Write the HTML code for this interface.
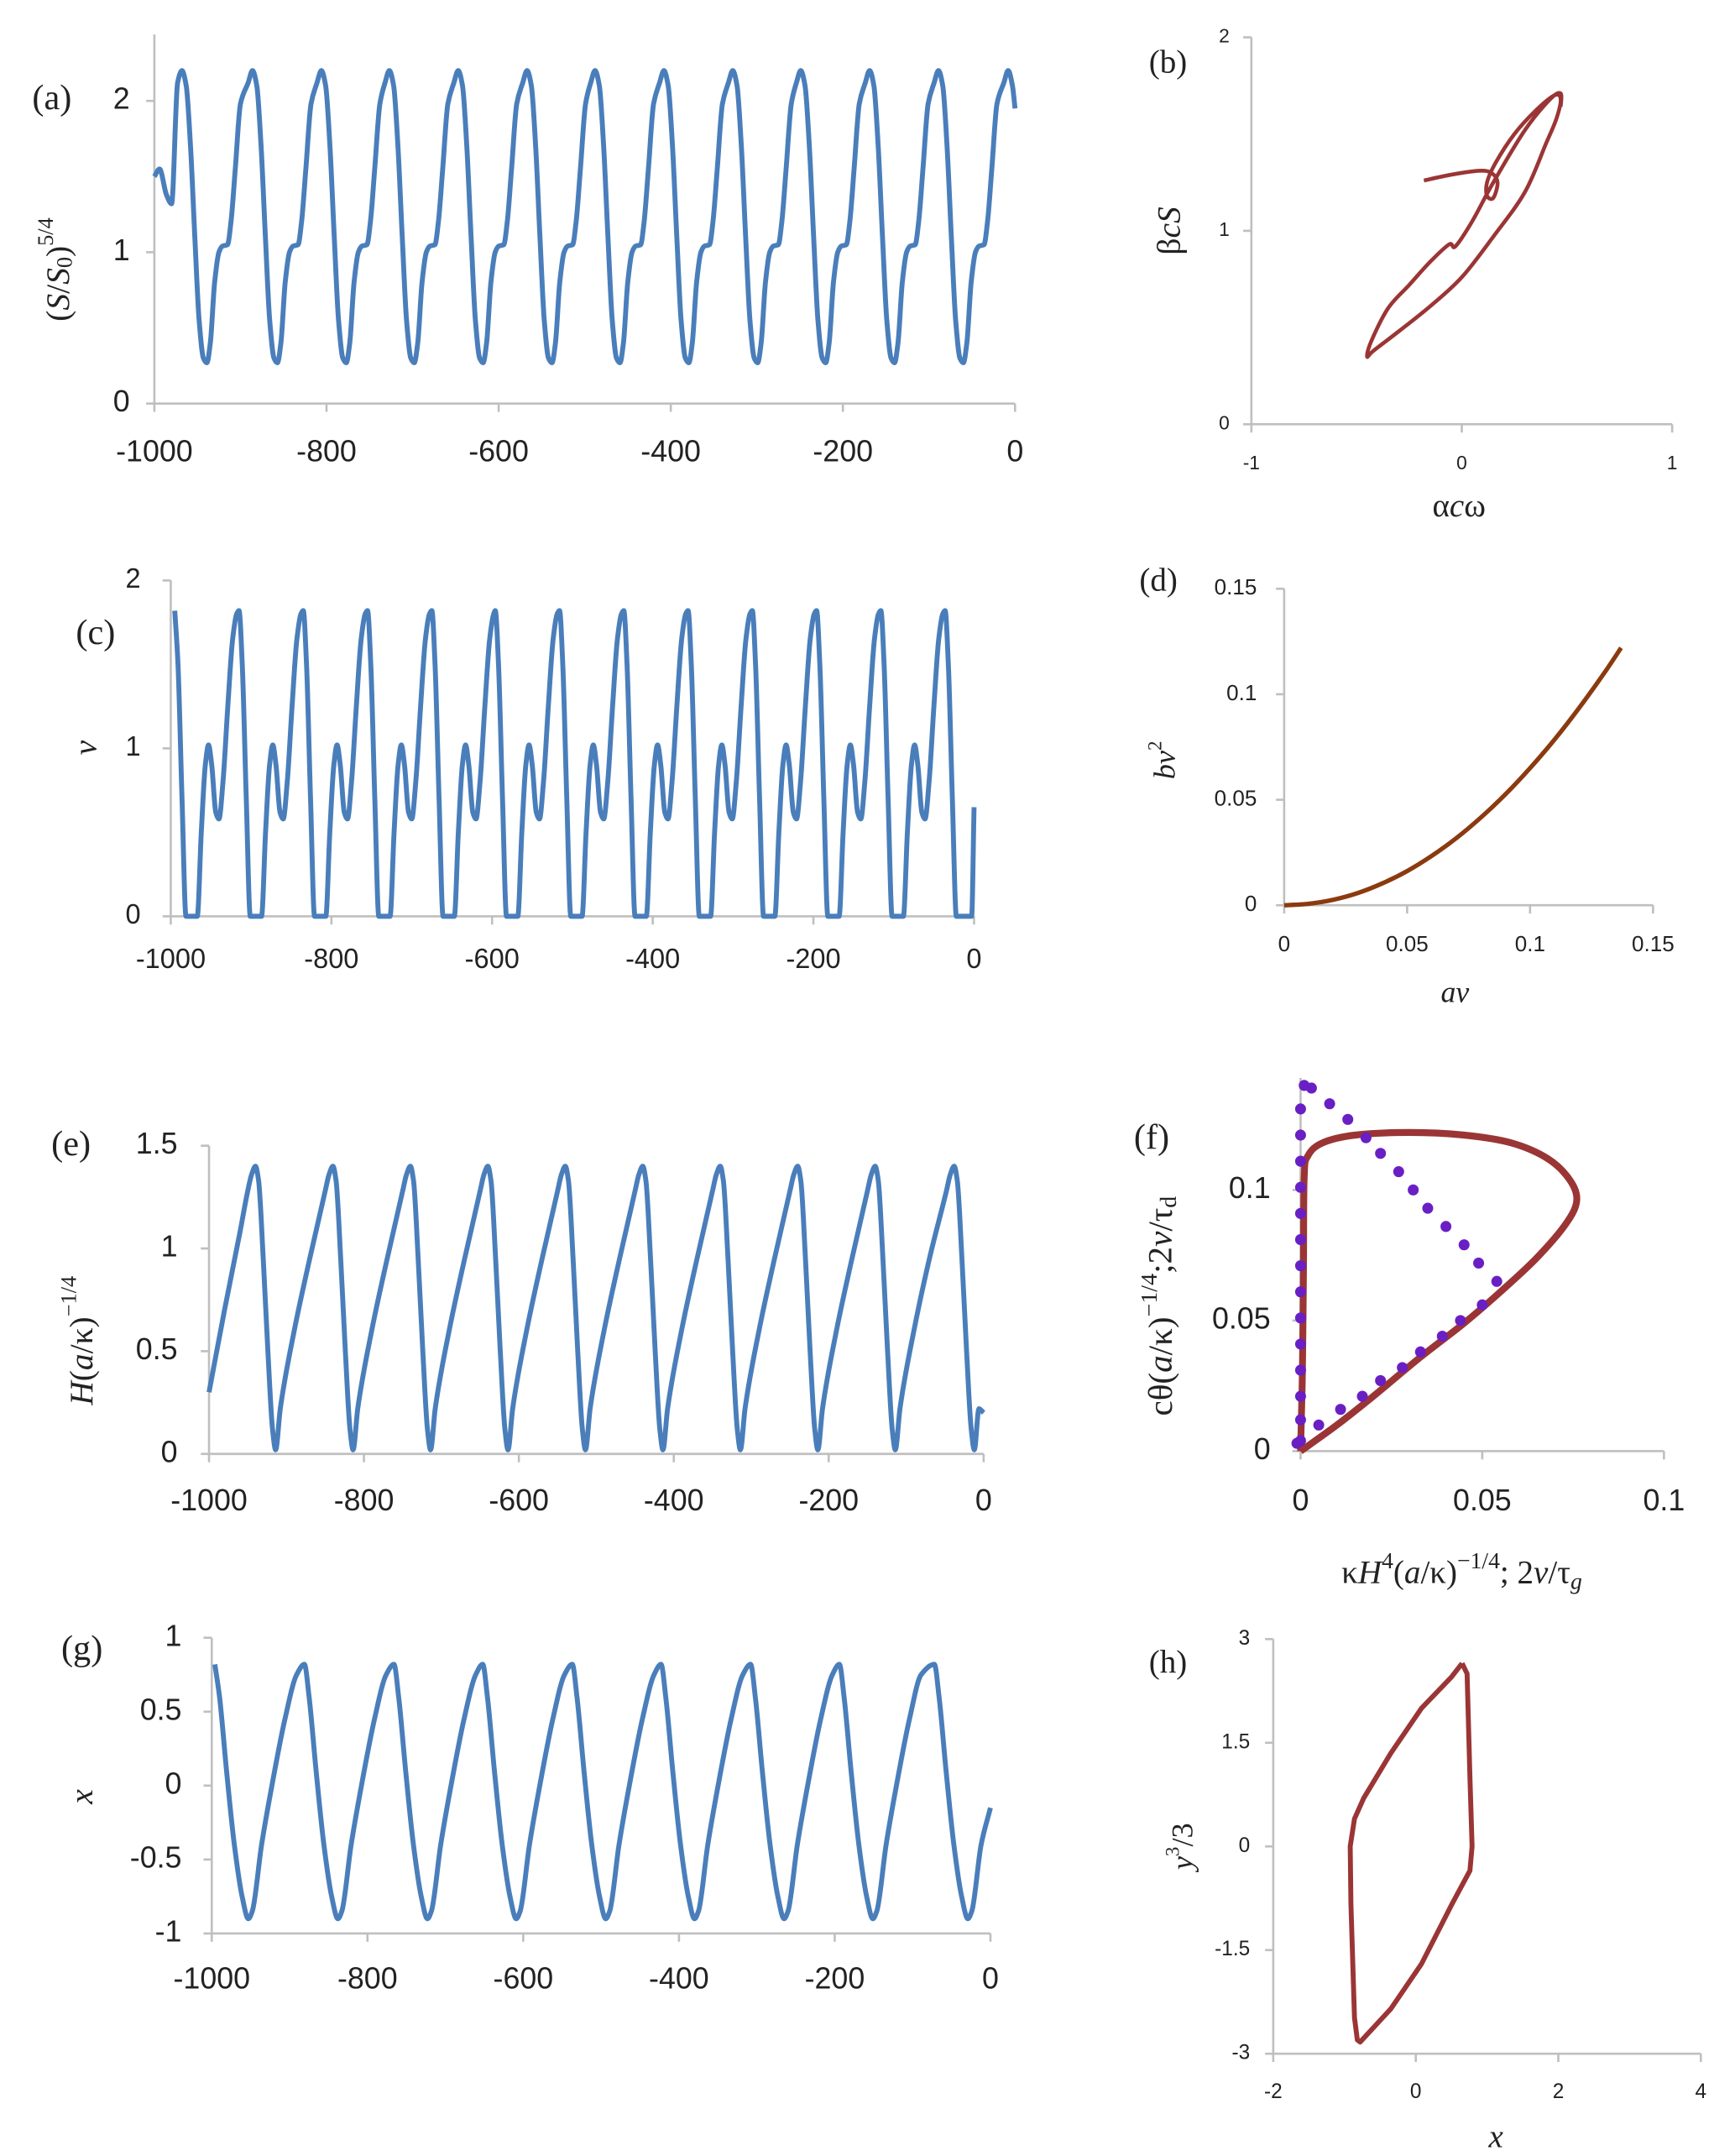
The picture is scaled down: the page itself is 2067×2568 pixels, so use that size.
<!DOCTYPE html>
<html><head><meta charset="utf-8"><title>Figure panels a–h</title>
<style>
html,body{margin:0;padding:0;background:#fff;}
svg{display:block;}
.tk{font-family:"Liberation Sans",sans-serif;fill:#222;}
.sr{font-family:"Liberation Serif",serif;fill:#222;}
.ax{stroke:#bfbfbf;stroke-width:1.6;fill:none;}
</style></head>
<body>
<svg id="fig" width="2067" height="2568" viewBox="0 0 1270 1560" preserveAspectRatio="none" xmlns="http://www.w3.org/2000/svg"></svg>
<script>
// ---------- DATA ----------
// (a) S series: peak times and one-cycle shape (offset from peak, value)
const aPeaks=[-968,-886,-806,-727,-647,-567,-488,-408,-328,-249,-169,-89,-8];
const aShapeT=[-5,0,5,10,15,20,25,29,33,38,43,47,53,57,62,68];
const aShapeV=[2.12,2.2,2.1,1.7,1.1,0.55,0.3,0.27,0.4,0.8,1.0,1.04,1.05,1.2,1.55,1.98];
const aStartT=[-1000,-994,-986,-980];
const aStartV=[1.5,1.55,1.38,1.32];
const aEndT=[0];
const aEndV=[1.95];
// (c) v series
const cPeaks=[-995,-915,-835,-755,-675,-596,-516,-436,-356,-276,-196,-116,-36];
const cShapeT=[0,4,9,14,28,33,38,42,46,51,55,60,66,72,77];
const cShapeV=[1.82,1.5,0.7,0,0,0.5,0.9,1.02,0.9,0.62,0.58,0.8,1.25,1.65,1.8];
const cEndT=[-8,-3,0];
const cEndV=[0,0,0.65];
// (e) H series (sawtooth)
const ePeaks=[-940,-840,-740,-640,-540,-440,-340,-240,-140,-38];
const eShapeT=[-10,-5,0,4,10,16,22,26,32,50,70];
const eShapeV=[1.28,1.36,1.4,1.33,0.95,0.5,0.12,0.02,0.22,0.6,0.95];
const eStartT=[-1000,-980,-960];
const eStartV=[0.3,0.7,1.08];
const eEndT=[0];
const eEndV=[0.2];
// (g) x series
const gPeaks=[-996,-881,-766,-652,-537,-423,-308,-194,-72];
const gShapeT=[0,6,15,25,35,43,48,60,75,90,105];
const gShapeV=[0.82,0.6,0.1,-0.4,-0.75,-0.9,-0.85,-0.4,0.05,0.45,0.75];
const gEndT=[0];
const gEndV=[-0.15];
// (b) phase portrait
const bX=[-0.18,-0.05,0.08,0.14,0.17,0.15,0.12,0.12,0.16,0.25,0.35,0.44,0.47,0.45,0.40,0.30,0.15,0,-0.15,-0.30,-0.42,-0.45,-0.43,-0.35,-0.25,-0.15,-0.06,-0.03,0.05,0.15,0.30,0.42,0.47,0.47];
const bY=[1.26,1.29,1.31,1.30,1.25,1.17,1.18,1.25,1.35,1.50,1.62,1.70,1.68,1.58,1.45,1.20,0.97,0.76,0.61,0.48,0.38,0.35,0.43,0.60,0.72,0.84,0.93,0.92,1.05,1.25,1.52,1.68,1.71,1.64];
// (d)
const dX=[0,0.01,0.02,0.03,0.04,0.05,0.06,0.07,0.08,0.09,0.1,0.11,0.12,0.13,0.137];
const dY=[0,0.0007,0.0026,0.0058,0.0104,0.0162,0.0234,0.0318,0.0416,0.0526,0.065,0.0786,0.0936,0.1098,0.1220];
// (f)
const fLineX=[0,0.0005,0.0008,0.001,0.002,0.006,0.015,0.03,0.045,0.058,0.068,0.074,0.076,0.073,0.065,0.055,0.045,0.033,0.02,0.01,0];
const fLineY=[0,0.03,0.07,0.105,0.113,0.118,0.121,0.122,0.121,0.118,0.112,0.104,0.096,0.087,0.074,0.061,0.049,0.036,0.021,0.01,0];
const fDotX=[0,0,0,0,0,0,0,0,0,0,0,0,0,0,0.001,0.003,0.008,0.013,0.018,0.022,0.027,0.031,0.035,0.04,0.045,0.049,0.054,0.050,0.044,0.039,0.033,0.028,0.022,0.017,0.011,0.005,-0.001];
const fDotY=[0.131,0.121,0.111,0.101,0.091,0.081,0.071,0.061,0.051,0.041,0.031,0.021,0.012,0.004,0.140,0.139,0.133,0.127,0.120,0.114,0.107,0.100,0.093,0.086,0.079,0.072,0.065,0.056,0.050,0.044,0.038,0.032,0.027,0.021,0.016,0.010,0.003];
// (h)
const hX=[0.65,0.72,0.76,0.79,0.76,0.51,0.08,-0.35,-0.78,-0.82,-0.86,-0.91,-0.92,-0.86,-0.73,-0.35,0.08,0.50,0.65];
const hY=[2.65,2.5,1.0,0.0,-0.35,-0.83,-1.7,-2.35,-2.83,-2.8,-2.48,-0.83,0.0,0.4,0.7,1.35,2.0,2.45,2.65];

// ---------- HELPERS ----------
const NS='http://www.w3.org/2000/svg';
const svg=document.getElementById('fig');
function mk(tag,attrs,parent){const e=document.createElementNS(NS,tag);for(const k in attrs)e.setAttribute(k,attrs[k]);(parent||svg).appendChild(e);return e;}
function lin(d0,d1,r0,r1){return v=>r0+(v-d0)*(r1-r0)/(d1-d0);}
function smooth(pts){let d='M'+pts[0][0].toFixed(2)+','+pts[0][1].toFixed(2);
 for(let i=0;i<pts.length-1;i++){const p0=pts[i-1]||pts[i],p1=pts[i],p2=pts[i+1],p3=pts[i+2]||p2;
  const c1=[p1[0]+(p2[0]-p0[0])/6,p1[1]+(p2[1]-p0[1])/6],c2=[p2[0]-(p3[0]-p1[0])/6,p2[1]-(p3[1]-p1[1])/6];
  d+='C'+c1[0].toFixed(2)+','+c1[1].toFixed(2)+' '+c2[0].toFixed(2)+','+c2[1].toFixed(2)+' '+p2[0].toFixed(2)+','+p2[1].toFixed(2);}
 return d;}
function polyline(pts){return 'M'+pts.map(p=>p[0].toFixed(2)+','+p[1].toFixed(2)).join('L');}
// monotone cubic (Fritsch-Carlson) for x-ordered screen points
function monotone(pts){const n=pts.length;const dx=[],dy=[],m=[],t=new Array(n);
 for(let i=0;i<n-1;i++){dx[i]=pts[i+1][0]-pts[i][0];dy[i]=pts[i+1][1]-pts[i][1];m[i]=dy[i]/dx[i];}
 t[0]=m[0];t[n-1]=m[n-2];
 for(let i=1;i<n-1;i++){if(m[i-1]*m[i]<=0)t[i]=0;else{const w1=2*dx[i]+dx[i-1],w2=dx[i]+2*dx[i-1];t[i]=(w1+w2)/(w1/m[i-1]+w2/m[i]);}}
 let d='M'+pts[0][0].toFixed(2)+','+pts[0][1].toFixed(2);
 for(let i=0;i<n-1;i++){const h=dx[i];
  d+='C'+(pts[i][0]+h/3).toFixed(2)+','+(pts[i][1]+t[i]*h/3).toFixed(2)+' '+(pts[i+1][0]-h/3).toFixed(2)+','+(pts[i+1][1]-t[i+1]*h/3).toFixed(2)+' '+pts[i+1][0].toFixed(2)+','+pts[i+1][1].toFixed(2);}
 return d;}
function buildSeries(startT,startV,peaks,shT,shV,endT,endV){
 const pts=[];startT.forEach((t,i)=>pts.push([t,startV[i]]));
 const lo=startT.length?startT[startT.length-1]:-1e9, hi=endT.length?endT[0]:1e9;
 peaks.forEach(p=>shT.forEach((o,i)=>{const t=p+o;if(t>lo&&t<hi)pts.push([t,shV[i]]);}));
 endT.forEach((t,i)=>pts.push([t,endV[i]]));
 pts.sort((a,b)=>a[0]-b[0]);
 const out=[];pts.forEach(q=>{if(q[0]>=-1000&&q[0]<=0&&(!out.length||q[0]>out[out.length-1][0]+0.5))out.push(q);});
 return out;}
function text(x,y,s,cls,size,anchor,name,rot){const t=mk('text',{x:x,y:y,'class':cls,'font-size':size,'text-anchor':anchor||'middle','dominant-baseline':'middle'});
 if(rot)t.setAttribute('transform','rotate(-90 '+x+' '+y+')');t.innerHTML=s;return t;}
function axes(g,x0,x1,y0,y1,xt,yt,sx,sy){
 const a=mk('path',{d:'M'+x0+','+y1+'V'+y0+'H'+x1,'class':'ax'},g);
 
 xt.forEach(v=>{const l=mk('line',{x1:sx(v),x2:sx(v),y1:y0,y2:y0+6,'class':'ax'},g);});
 yt.forEach(v=>{const l=mk('line',{x1:x0-6,x2:x0,y1:sy(v),y2:sy(v),'class':'ax'},g);});}
function panel(name){const g=mk('g',{});return g;}
function tsPanel(name,lab,labXY,X0,X1,yD0,yD1,Y0,Y1,yTicks,yLabs,yTop,pts,ylab,ylabXY,tsize,xlabY,ylabX){
 const g=panel(name);const sx=lin(-1000,0,X0,X1),sy=lin(yD0,yD1,Y0,Y1);
 const xT=[-1000,-800,-600,-400,-200,0];
 axes(g,X0,X1,Y0,yTop,xT,yTicks,sx,sy);
 xT.forEach(v=>text(sx(v),xlabY,String(v),'tk',tsize,'middle','x-tick-label'));
 yTicks.forEach((v,i)=>text(ylabX,sy(v),yLabs[i],'tk',tsize,'end','y-tick-label'));
 const p=mk('path',{d:monotone(pts.map(q=>[sx(q[0]),sy(q[1])])),fill:'none',stroke:'#4a7ebb','stroke-width':3.6,'stroke-linejoin':'round'},g);
 
 text(labXY[0],labXY[1],lab,'sr',26,'middle','panel-label');
 text(ylabXY[0],ylabXY[1],ylab,'sr',24,'middle','y-axis-title',true);
}
// (a)
tsPanel('panel-a','(a)',[38,73],113,743,0,2,292,73,[0,1,2],['0','1','2'],25,
 buildSeries(aStartT,aStartV,aPeaks,aShapeT,aShapeV,aEndT,aEndV),
 '(<tspan font-style="italic">S</tspan>/<tspan font-style="italic">S</tspan><tspan font-size="16" dy="4">0</tspan><tspan dy="-4">)</tspan><tspan font-size="16" dy="-10">5/4</tspan>',[45,195],22,328,95);
// (c)
tsPanel('panel-c','(c)',[70,460],125,713,0,2,663,420,[0,1,2],['0','1','2'],420,
 buildSeries([],[],cPeaks,cShapeT,cShapeV,cEndT,cEndV),
 '<tspan font-style="italic">v</tspan>',[65,541],20,695,103);
// (e)
tsPanel('panel-e','(e)',[52,830],153,720,0,1.5,1052,829,[0,0.5,1,1.5],['0','0.5','1','1.5'],829,
 buildSeries(eStartT,eStartV,ePeaks,eShapeT,eShapeV,eEndT,eEndV),
 '<tspan font-style="italic">H</tspan>(<tspan font-style="italic">a</tspan>/κ)<tspan font-size="16" dy="-10">−1/4</tspan>',[62,970],22,1087,130);
// (g)
tsPanel('panel-g','(g)',[60,1195],155,725,-1,1,1399,1185,[-1,-0.5,0,0.5,1],['-1','-0.5','0','0.5','1'],1185,
 buildSeries([],[],gPeaks,gShapeT,gShapeV,gEndT,gEndV),
 '<tspan font-style="italic">x</tspan>',[62,1300],22,1433,133);

// (b)
(function(){const g=panel('panel-b');const sx=lin(-1,1,916,1224),sy=lin(0,2,307,27);
 axes(g,916,1224,307,27,[-1,0,1],[0,1,2],sx,sy);
 [-1,0,1].forEach(v=>text(sx(v),336,String(v),'tk',14,'middle','x-tick-label'));
 [0,1,2].forEach(v=>text(900,sy(v),String(v),'tk',14,'end','y-tick-label'));
 const p=mk('path',{d:smooth(bX.map((x,i)=>[sx(x),sy(bY[i])])),fill:'none',stroke:'#9b3535','stroke-width':2.8},g);
 
 text(855,47,'(b)','sr',24,'middle','panel-label');
 text(858,167,'β<tspan font-style="italic">cS</tspan>','sr',24,'middle','y-axis-title',true);
 text(1068,368,'α<tspan font-style="italic">c</tspan>ω','sr',24,'middle','x-axis-title');})();
// (d)
(function(){const g=panel('panel-d');const sx=lin(0,0.15,940,1210),sy=lin(0,0.15,655,426);
 const T=[0,0.05,0.1,0.15],L=['0','0.05','0.1','0.15'];
 axes(g,940,1210,655,426,T,T,sx,sy);
 T.forEach((v,i)=>text(sx(v),684,L[i],'tk',16,'middle','x-tick-label'));
 T.forEach((v,i)=>text(920,sy(v),L[i],'tk',16,'end','y-tick-label'));
 const p=mk('path',{d:smooth(dX.map((x,i)=>[sx(x),sy(dY[i])])),fill:'none',stroke:'#8b3a0f','stroke-width':3.2},g);
 
 text(848,422,'(d)','sr',24,'middle','panel-label');
 text(855,550,'<tspan font-style="italic">bv</tspan><tspan font-size="14" dy="-8">2</tspan>','sr',22,'middle','y-axis-title',true);
 text(1065,720,'<tspan font-style="italic">av</tspan>','sr',22,'middle','x-axis-title');})();
// (f)
(function(){const g=panel('panel-f');const sx=lin(0,0.1,952,1218),sy=lin(0,0.1,1050,861);
 const T=[0,0.05,0.1],L=['0','0.05','0.1'];
 axes(g,952,1218,1050,780,T,T,sx,sy);
 T.forEach((v,i)=>text(sx(v),1087,L[i],'tk',22,'middle','x-tick-label'));
 T.forEach((v,i)=>text(930,sy(v),L[i],'tk',22,'end','y-tick-label'));
 const p=mk('path',{d:smooth(fLineX.map((x,i)=>[sx(x),sy(fLineY[i])])),fill:'none',stroke:'#9b3535','stroke-width':5},g);
 
 fDotX.forEach((x,i)=>{const c=mk('circle',{cx:sx(x),cy:sy(fDotY[i]),r:4,fill:'#6a1fc4'},g);
  });
 text(843,825,'(f)','sr',26,'middle','panel-label');
 text(852,945,'cθ(<tspan font-style="italic">a</tspan>/κ)<tspan font-size="17" dy="-9">−1/4</tspan><tspan dy="9">;2</tspan><tspan font-style="italic">v</tspan>/τ<tspan font-size="17" dy="5">d</tspan>','sr',25,'middle','y-axis-title',true);
 text(1070,1140,'κ<tspan font-style="italic">H</tspan><tspan font-size="17" dy="-9">4</tspan><tspan dy="9">(</tspan><tspan font-style="italic">a</tspan>/κ)<tspan font-size="17" dy="-9">−1/4</tspan><tspan dy="9">; 2</tspan><tspan font-style="italic">v</tspan>/τ<tspan font-size="17" dy="6" font-style="italic">g</tspan>','sr',24,'middle','x-axis-title');})();
// (h)
(function(){const g=panel('panel-h');const sx=lin(-2,4,932,1245),sy=lin(-3,3,1486,1186);
 const XT=[-2,0,2,4],YT=[-3,-1.5,0,1.5,3];
 axes(g,932,1245,1486,1186,XT,YT,sx,sy);
 XT.forEach(v=>text(sx(v),1514,String(v),'tk',15,'middle','x-tick-label'));
 YT.forEach(v=>text(915,sy(v),String(v),'tk',15,'end','y-tick-label'));
 const p=mk('path',{d:polyline(hX.map((x,i)=>[sx(x),sy(hY[i])])),fill:'none',stroke:'#9b3535','stroke-width':3.6,'stroke-linejoin':'round'},g);
 
 text(855,1205,'(h)','sr',24,'middle','panel-label');
 text(868,1336,'<tspan font-style="italic">y</tspan><tspan font-size="14" dy="-8">3</tspan><tspan dy="8">/3</tspan>','sr',22,'middle','y-axis-title',true);
 text(1095,1548,'<tspan font-style="italic">x</tspan>','sr',24,'middle','x-axis-title');})();
</script>
</body></html>
